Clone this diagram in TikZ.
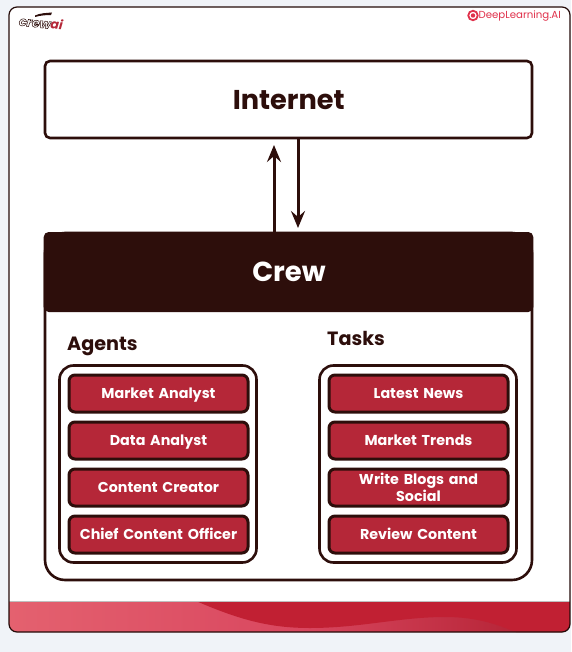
\documentclass[tikz,border=0pt]{standalone}
\usepackage{fontspec}
\setmainfont{Poppins}[BoldFont={Poppins Bold},ItalicFont={Poppins Italic},BoldItalicFont={Poppins Bold Italic}]
\usetikzlibrary{arrows.meta,calc}
\definecolor{dk}{HTML}{2D0E0B}
\definecolor{rd}{HTML}{B52738}
\definecolor{wave}{HTML}{C12033}
\definecolor{bg}{HTML}{F0F3F8}
\definecolor{dl}{HTML}{E0314B}
\definecolor{fa}{HTML}{E4616F}
\definecolor{fb}{HTML}{D9475F}
\tikzset{
  x=1pt,y=-1pt,
  bigbox/.style={draw=dk,line width=2.6pt,rounded corners=5pt,fill=white,outer sep=0pt,inner sep=0pt},
  panelbox/.style={draw=dk,line width=2.6pt,rounded corners=14pt,fill=white,outer sep=0pt,inner sep=0pt,minimum width=197pt,minimum height=197pt},
  itembox/.style={draw=dk,line width=3pt,rounded corners=6pt,fill=rd,text=white,font=\fontsize{14.3}{16.8}\selectfont\bfseries,minimum width=179pt,minimum height=37pt,text width=170pt,align=center,inner sep=0pt,outer sep=0pt},
  itemline/.style={text height=11.6pt,text depth=2pt},
  heading/.style={font=\fontsize{19.2}{22}\selectfont\bfseries,text=dk,anchor=base west,inner sep=0pt},
  flow/.style={draw=dk,line width=3pt,-{Stealth[length=17pt,width=14pt,inset=6pt]}},
}
\begin{document}
\begin{tikzpicture}
\useasboundingbox (0,0) rectangle (571,652);
\fill[bg] (0,0) rectangle (571,652);
% card
\fill[white,rounded corners=8pt] (9,7) rectangle (570,632);
\begin{scope}
  \clip[rounded corners=8pt] (9,7) rectangle (570,632);
  \fill[left color=fa,right color=fb] (9,601) rectangle (300,632);
  \fill[left color=fb,right color=wave!90!black] (300,601) rectangle (570,632);
  \fill[wave] (196,601) .. controls (240,620) and (270,628) .. (310,628)
     .. controls (360,628) and (400,617) .. (445,617)
     .. controls (480,617) and (500,626) .. (516,632) -- (570,632) -- (570,601) -- cycle;
  \draw[gray!50,line width=.6pt] (9,601) -- (570,601);
\end{scope}
\draw[dk!80!black,line width=1.2pt,rounded corners=8pt] (9,7) rectangle (570,632);
% logos
\fill[dk] (35,15.5) .. controls (40,13) and (47,13) .. (52,12.5) -- (51,15) .. controls (46,15) and (40,15.5) .. (35,17) -- cycle;
\node[anchor=west,inner sep=0pt,text=dk,rotate=-6] (crewlogo) at (19,20.5) {\fontsize{12.6}{13}\selectfont\bfseries\itshape \special{pdf:code 1 Tr 0.5 w}crew\special{pdf:code 0 Tr}\textcolor{rd}{ai}};
\node[anchor=east,inner sep=0pt,text=dl] (dltext) at (561,15.5) {\fontsize{10.2}{12}\selectfont DeepLearning.AI};
\node[circle,draw=dl,line width=1.8pt,fill=white,minimum size=9.5pt,inner sep=0pt] (dlicon) at (473,15.5) {};
\fill[dl] (dlicon.center) circle (2.2pt);
% internet
\node[bigbox,minimum width=487pt,minimum height=77pt] (internet) at (288.5,99.5) {};
\node[text=dk,font=\fontsize{27.2}{30}\selectfont\bfseries,inner sep=0pt] (internetlabel) at (288.8,99.8) {Internet};
% crew
\node[bigbox,rounded corners=20pt,minimum width=487pt,minimum height=347pt] (crew) at (288.5,406.5) {};
\node[fill=dk,rounded corners=5pt,minimum width=489.6pt,minimum height=80pt,inner sep=0pt,outer sep=0pt] (crewhead) at (288.5,272) {};
\node[text=white,font=\fontsize{27.5}{30}\selectfont\bfseries,inner sep=0pt] (crewlabel) at (289,272) {Crew};
% arrows
\coordinate (upx) at (274,0);
\coordinate (downx) at (298,0);
\draw[flow] (upx |- crewhead.north) -- ($(upx |- internet.south)+(0,7)$);
\draw[flow] (downx |- internet.south) -- ($(downx |- crewhead.north)+(0,-4)$);
% headings
\node[heading] (agents) at (67,350) {Agents};
\node[heading] (tasks) at (327,345) {Tasks};
% panels
\node[panelbox] (agentpanel) at (158,464) {};
\node[panelbox] (taskpanel) at (418,464) {};
% items
\node[itembox,itemline] (a1) at (158.5,393.5) {Market Analyst};
\node[itembox,itemline] (a2) at (158.5,440.5) {Data Analyst};
\node[itembox,itemline] (a3) at (158.5,487.5) {Content Creator};
\node[itembox,itemline] (a4) at (158.5,534.5) {Chief Content Officer};
\node[itembox,itemline] (t1) at (418.5,393.5) {Latest News};
\node[itembox,itemline] (t2) at (418.5,440.5) {Market Trends};
\node[itembox] (t3) at (418.5,487.5) {Write Blogs and\\Social};
\node[itembox,itemline] (t4) at (418.5,534.5) {Review Content};
\end{tikzpicture}
\end{document}
